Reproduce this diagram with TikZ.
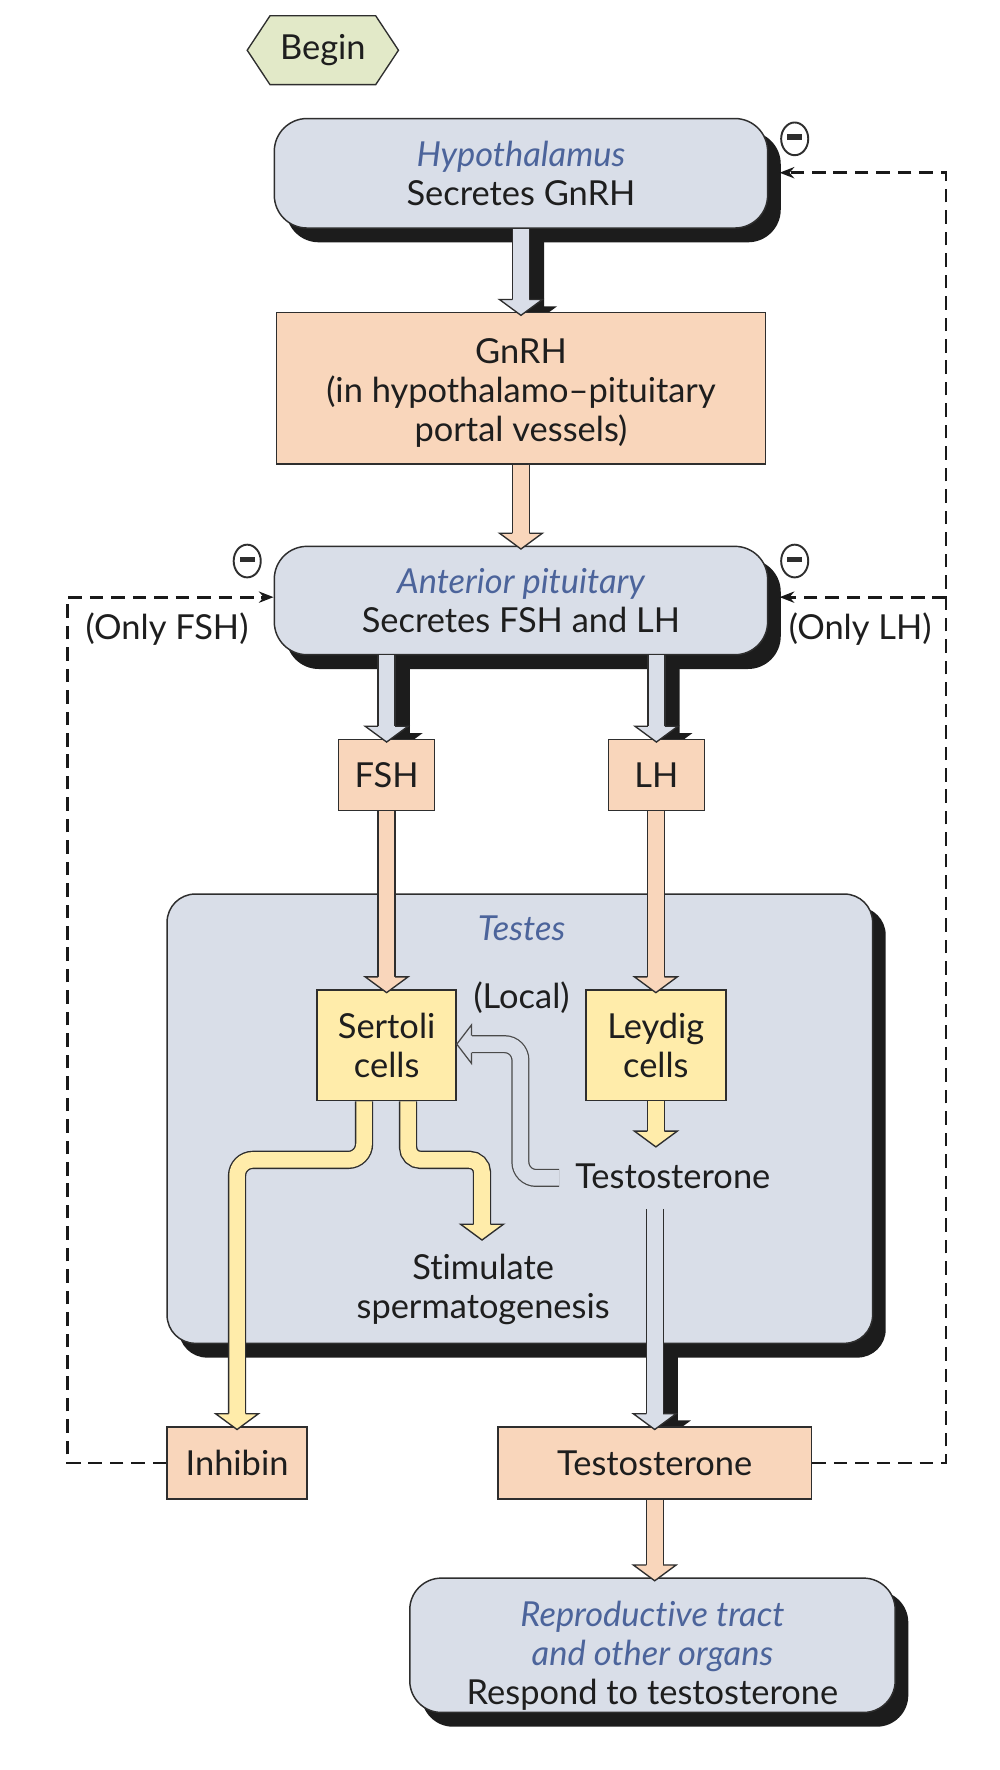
\documentclass[tikz,border=0pt]{standalone}
\usepackage{fontspec}
\setmainfont{Lato}[Ligatures={NoCommon,NoRare,NoDiscretionary}]
\usetikzlibrary{shapes.geometric,shapes.symbols,arrows.meta,calc}
\definecolor{boxblue}{HTML}{D9DEE8}
\definecolor{peach}{HTML}{F9D6BB}
\definecolor{yel}{HTML}{FFECAA}
\definecolor{hexg}{HTML}{E2E9C8}
\definecolor{tblue}{HTML}{4C649B}
\definecolor{outl}{HTML}{2E2E2E}
\definecolor{shad}{HTML}{1C1C1C}
\definecolor{txt}{HTML}{1E1E1E}
\definecolor{localc}{HTML}{4A4A4A}
\pgfdeclarelayer{bg}
\pgfdeclarelayer{shadows}
\pgfsetlayers{bg,shadows,main}
\newcommand\fs{\fontsize{30.5}{34.5}\selectfont}
\newcommand\titl[1]{\textcolor{tblue}{\itshape #1}}
\newcommand\fatv[3]{%
  \draw[draw=outl, line width=1.2pt, double=#1, double distance=13.8pt] let \p1=#3 in #2 -- (\x1,\y1+13.5pt);
  \filldraw[draw=outl, fill=#1, line width=1.2pt] let \p1=#3 in (\x1-7.5pt,\y1+14pt) -- (\x1-19pt,\y1+14pt) -- (\x1,\y1) -- (\x1+19pt,\y1+14pt) -- (\x1+7.5pt,\y1+14pt);
}
\newcommand\fatshadow[2]{%
  \begin{pgfonlayer}{shadows}
  \fill[shad] let \p1=#1, \p2=#2 in (\x2+5.5pt,\y1) -- (\x2+5.5pt,\y2+8pt) -- (\x2-6pt,\y2+8pt) -- (\x2+13pt,\y2-6pt) -- (\x2+32pt,\y2+8pt) -- (\x2+20.5pt,\y2+8pt) -- (\x2+20.5pt,\y1) -- cycle;
  \end{pgfonlayer}}
\newcommand\boxshadow[2]{%
  \begin{pgfonlayer}{shadows}
  \fill[shad, rounded corners=#2] ($(#1.south west)+(11,12)$) rectangle ($(#1.north east)+(11,12)$);
  \end{pgfonlayer}}
\tikzset{
  base/.style={draw=outl, line width=1.3pt, text=txt, align=center, inner sep=0pt, font=\fs},
  rbox/.style={base, fill=boxblue, rounded corners=29pt},
  pbox/.style={base, fill=peach},
  ybox/.style={base, fill=yel},
  lbl/.style={text=txt, align=center, inner sep=0pt, font=\fs},
  minus/.style={ellipse, draw=outl, line width=1.7pt, fill=white, minimum width=24pt, minimum height=29pt, inner sep=0pt,
     path picture={\fill[outl] ($(path picture bounding box.center)+(-6.5,-4)$) rectangle ($(path picture bounding box.center)+(6.5,0.8)$);}},
  fb/.style={draw=black!90, line width=2.5pt, dash pattern=on 12pt off 7pt},
  fbarrow/.style={fb, -{Stealth[length=13pt,width=10pt]}},
  yshaft/.style={draw=outl, line width=1.2pt, double=yel, double distance=13.8pt},
  lshaft/.style={draw=localc, line width=1.1pt, double=boxblue, double distance=13.8pt, rounded corners=14pt},
}
\begin{document}
\begin{tikzpicture}[x=1pt,y=-1pt]
\useasboundingbox (0,0) rectangle (885,1568);
\begin{pgfonlayer}{bg}\fill[white] (0,0) rectangle (885,1568);\end{pgfonlayer}

% Begin
\node[signal, signal to=west and east, signal pointer angle=113, draw=outl, fill=hexg, line width=1.2pt,
      minimum width=134pt, minimum height=61pt, inner sep=0pt, font=\fs, text=txt] (begin) at (286,44.5) {Begin};

% boxes
\node[rbox, minimum width=437pt, minimum height=97pt] (hyp) at (461.5,153.5) {\titl{Hypothalamus}\\Secretes GnRH};
\node[pbox, minimum width=433pt, minimum height=134pt] (gnrh) at (461.5,344) {};
\node[lbl] (gnrhT) at ($(gnrh.center)+(0,4)$) {GnRH\\(in hypothalamo–pituitary\\portal vessels)};
\node[rbox, minimum width=437pt, minimum height=96pt] (ap) at (461.5,532) {\titl{Anterior pituitary}\\Secretes FSH and LH};
\node[pbox, minimum width=85pt, minimum height=63pt] (fsh) at (342.5,686.5) {FSH};
\node[pbox, minimum width=85pt, minimum height=63pt] (lh) at (581.5,686.5) {LH};
\node[rbox, rounded corners=25pt, minimum width=625pt, minimum height=398pt] (testes) at (460.5,991) {};
\node[lbl] (testesT) at (462,822) {\titl{Testes}};
\node[ybox, minimum width=123pt, minimum height=98pt] (sertoli) at (342.5,926) {Sertoli\\cells};
\node[ybox, minimum width=124pt, minimum height=98pt] (leydig) at (581,926) {Leydig\\cells};
\node[lbl] (local) at (462,884) {(Local)};
\node[lbl] (testo) at (596,1042) {Testosterone};
\node[lbl] (stim) at (428,1142) {Stimulate\\spermatogenesis};
\node[pbox, minimum width=124pt, minimum height=64pt] (inhibin) at (210,1296) {Inhibin};
\node[pbox, minimum width=278pt, minimum height=64pt] (testbox) at (580,1296) {Testosterone};
\node[rbox, rounded corners=28pt, minimum width=430pt, minimum height=119pt] (repro) at (578,1457.5) {};
\node[lbl] (reproT) at ($(repro.center)+(0,9)$)
  {\titl{Reproductive tract}\\\titl{and other organs}\\Respond to testosterone};
\node[lbl] (onlyfsh) at (148,557) {(Only FSH)};
\node[lbl] (onlylh) at (762,557) {(Only LH)};
\node[minus] (m1) at (704,123) {};
\node[minus] (m2) at (219,497) {};
\node[minus] (m3) at (704,497) {};

% box shadows
\boxshadow{hyp}{29pt}
\boxshadow{ap}{29pt}
\boxshadow{testes}{25pt}
\boxshadow{repro}{28pt}

% fat arrows
\fatshadow{(hyp.south)}{($(gnrh.north)+(0,3)$)}
\fatv{boxblue}{(hyp.south)}{($(gnrh.north)+(0,3)$)}
\fatv{peach}{(gnrh.south)}{($(ap.north)+(0,3)$)}
\fatshadow{(fsh.north |- ap.south)}{($(fsh.north)+(0,3)$)}
\fatv{boxblue}{(fsh.north |- ap.south)}{($(fsh.north)+(0,3)$)}
\fatshadow{(lh.north |- ap.south)}{($(lh.north)+(0,3)$)}
\fatv{boxblue}{(lh.north |- ap.south)}{($(lh.north)+(0,3)$)}
\fatv{peach}{(fsh.south)}{($(sertoli.north)+(0,3)$)}
\fatv{peach}{(leydig.north |- lh.south)}{($(leydig.north)+(0,3)$)}
\coordinate (ltip2) at (581,1016);
\fatv{yel}{(leydig.south)}{(ltip2)}
\coordinate (tstart) at (580,1071);
\fatshadow{(tstart)}{($(testbox.north)+(0,3)$)}
\fatv{boxblue}{(tstart)}{($(testbox.north)+(0,3)$)}
\fatv{peach}{(testbox.south)}{($(testbox.south |- repro.north)+(0,3)$)}

% Sertoli outputs
\draw[yshaft, rounded corners=14pt] ($(sertoli.south)+(-20,0)$) -- (322.5,1027.5) -- (210,1027.5) -- ($(inhibin.north)+(0,-10.5)$);
\filldraw[draw=outl, fill=yel, line width=1.2pt] let \p1=($(inhibin.north)+(0,3)$) in (\x1-7.5pt,\y1+14pt) -- (\x1-19pt,\y1+14pt) -- (\x1,\y1) -- (\x1+19pt,\y1+14pt) -- (\x1+7.5pt,\y1+14pt);
\coordinate (stimtip) at (427,1098.5);
\draw[yshaft, rounded corners=11pt] ($(sertoli.south)+(19,0)$) -- (361.5,1027.5) -- (427,1027.5) -- ($(stimtip)+(0,-13.5)$);
\filldraw[draw=outl, fill=yel, line width=1.2pt] let \p1=(stimtip) in (\x1-7.5pt,\y1+14pt) -- (\x1-19pt,\y1+14pt) -- (\x1,\y1) -- (\x1+19pt,\y1+14pt) -- (\x1+7.5pt,\y1+14pt);

% local testosterone arrow
\coordinate (ltail) at ($(testo.west)+(-14,1.5)$);
\coordinate (ltip) at ($(sertoli.east)+(0,-1)$);
\draw[lshaft] (ltail) -- (461,1043.5) -- (461,925) -- ($(ltip)+(13.5,0)$);
\filldraw[draw=localc, fill=boxblue, line width=1.1pt] let \p1=(ltip) in (\x1+13pt,\y1+7.5pt) -- (\x1+13pt,\y1+17pt) -- (\x1,\y1) -- (\x1+13pt,\y1-17pt) -- (\x1+13pt,\y1-7.5pt);

% feedback dashed lines
\coordinate (rj) at (838,529);
\coordinate (lj) at (60,529);
\draw[fbarrow] (testbox.east) -- (838,1296) -- (838,153) -- ($(hyp.east)+(10,-0.5)$);
\draw[fbarrow] (rj) -- ($(ap.east |- rj)+(10,0)$);
\draw[fbarrow] (inhibin.west) -- (60,1296) -- (lj) -- (ap.west |- lj);
\end{tikzpicture}
\end{document}
